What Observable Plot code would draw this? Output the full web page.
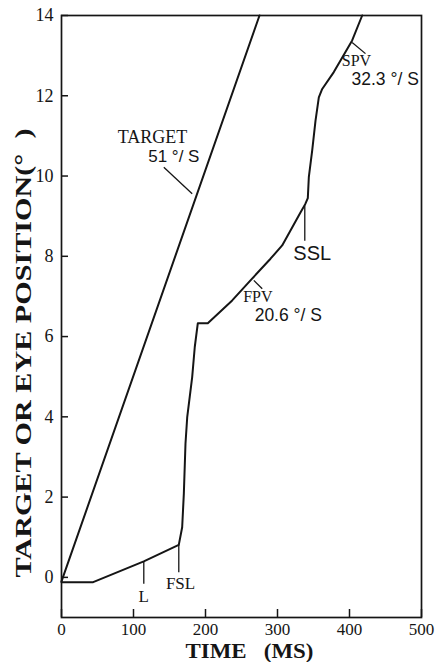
<!DOCTYPE html>
<html><head><meta charset="utf-8">
<script src="https://cdn.jsdelivr.net/npm/d3@7"></script>
<script src="https://cdn.jsdelivr.net/npm/@observablehq/plot@0.6"></script>
<style>body{margin:0;background:#fff}</style>
</head><body><div id="chart"></div>
<script>
// Axis ticks
const xTicks = [0, 100, 200, 300, 400, 500];
const yTicks = [0, 2, 4, 6, 8, 10, 12, 14];

// Target trace (51 °/s)
const targetTime = [0, 275];
const targetPos = [-0.1, 14];

// Eye trace
const eyeTime = [0, 44, 114.3, 162.9, 167.6, 169.9, 172.2, 174.6, 181.5, 185.1, 189.3, 203.2, 237.1, 262.5, 290.3, 306.5, 332.1, 338.5, 342.1, 343.5, 348.2, 352.8, 357.4, 362.1, 378.2, 403.7, 417.6];
const eyePos  = [-0.12, -0.12, 0.40, 0.81, 1.25, 2.08, 3.33, 3.99, 4.99, 5.74, 6.33, 6.33, 6.90, 7.40, 7.94, 8.27, 9.10, 9.30, 9.45, 9.97, 10.64, 11.38, 11.96, 12.17, 12.59, 13.38, 14.0];

// Serif annotations
const serifText = ["TARGET", "FPV", "SPV", "L", "FSL"];
const serifTime = [126.4, 272.7, 409.7, 114.3, 165.3];
const serifPos  = [10.83, 6.86, 12.75, -0.62, -0.285];
const serifSize = [18, 16, 16, 17, 17];

// Sans annotations
const sansText = ["51 °/ S", "20.6 °/ S", "32.3 °/ S", "SSL"];
const sansTime = [156, 315, 449.5, 348.2];
const sansPos  = [10.34, 6.40, 12.26, 7.90];
const sansSize = [17, 17.5, 17.5, 20];

// Leader lines
const leadT1 = [142.1, 267.1, 403.7, 114.3, 162.9, 337.9];
const leadP1 = [10.22, 7.40, 13.33, 0.40, 0.81, 9.27];
const leadT2 = [181.5, 278.8, 422.2, 114.3, 162.9, 337.9];
const leadP2 = [9.56, 7.19, 13.05, -0.16, 0.13, 8.39];

const xTitle = "TIME   (MS)";
const yTitle = "TARGET OR EYE POSITION(°  )";

const target = targetTime.map((t, i) => ({t, p: targetPos[i]}));
const eye = eyeTime.map((t, i) => ({t, p: eyePos[i]}));
const serifLabels = serifText.map((s, i) => ({s, t: serifTime[i], p: serifPos[i], f: serifSize[i]}));
const sansLabels = sansText.map((s, i) => ({s, t: sansTime[i], p: sansPos[i], f: sansSize[i]}));
const leaders = leadT1.map((t, i) => ({t1: t, p1: leadP1[i], t2: leadT2[i], p2: leadP2[i]}));

const W = 435, H = 662, mL = 61, mR = 14, mT = 15, mB = 45;
const plotW = W - mL - mR, plotH = H - mT - mB;
const ink = "#151515";
const serif = "'Liberation Serif', 'Times New Roman', serif";
const sans = "'Liberation Sans', Arial, sans-serif";

const chart = Plot.plot({
  width: W, height: H,
  marginLeft: mL, marginRight: mR, marginTop: mT, marginBottom: mB,
  style: {fontFamily: serif, fontSize: "17px", color: ink, background: "#fff"},
  x: {domain: [0, 500]},
  y: {domain: [-1, 14]},
  marks: [
    Plot.frame({stroke: ink, strokeWidth: 1.7}),
    Plot.ruleX(xTicks, {x: d => d, insetTop: plotH - 8, stroke: ink, strokeWidth: 1.5}),
    Plot.ruleY(yTicks, {y: d => d, insetRight: plotW - 7, stroke: ink, strokeWidth: 1.5}),
    Plot.axisX({ticks: xTicks, tickSize: 0, tickPadding: 5, label: null, tickFormat: d => String(d), fontSize: 17, fontFamily: serif, fill: ink}),
    Plot.axisY({ticks: yTicks, tickSize: 0, tickPadding: 8, label: null, tickFormat: d => String(d), fontSize: 18, fontFamily: serif, fill: ink}),
    Plot.line(target, {x: "t", y: "p", stroke: ink, strokeWidth: 2}),
    Plot.line(eye, {x: "t", y: "p", stroke: ink, strokeWidth: 2, strokeLinejoin: "round"}),
    Plot.link(leaders, {x1: "t1", y1: "p1", x2: "t2", y2: "p2", stroke: ink, strokeWidth: 1.3}),
    Plot.text(serifLabels, {x: "t", y: "p", text: "s", fontSize: "f", textAnchor: "middle", lineAnchor: "bottom", fill: ink, fontFamily: serif}),
    Plot.text(sansLabels, {x: "t", y: "p", text: "s", fontSize: "f", textAnchor: "middle", lineAnchor: "bottom", fill: ink, fontFamily: sans}),
    Plot.text([xTitle], {frameAnchor: "bottom", dx: 8, dy: 40, textAnchor: "middle", lineAnchor: "bottom", fontSize: 21, fontWeight: "bold", fill: ink, fontFamily: serif}),
    Plot.text([yTitle], {frameAnchor: "left", dx: -31, dy: 36.5, rotate: -90, textAnchor: "middle", lineAnchor: "bottom", fontSize: 23, fontWeight: "bold", fill: ink, fontFamily: serif})
  ]
});

// Stretch axis titles to the lengths seen in the reference
d3.select(chart).selectAll("text").each(function() {
  const t = this.textContent;
  if (t === xTitle) { this.setAttribute("textLength", 128); this.setAttribute("lengthAdjust", "spacingAndGlyphs"); }
  if (t === yTitle) { this.setAttribute("textLength", 449); this.setAttribute("lengthAdjust", "spacingAndGlyphs"); }
});
d3.select(chart).style("white-space", "pre");
document.getElementById("chart").appendChild(chart);
</script>
</body></html>
